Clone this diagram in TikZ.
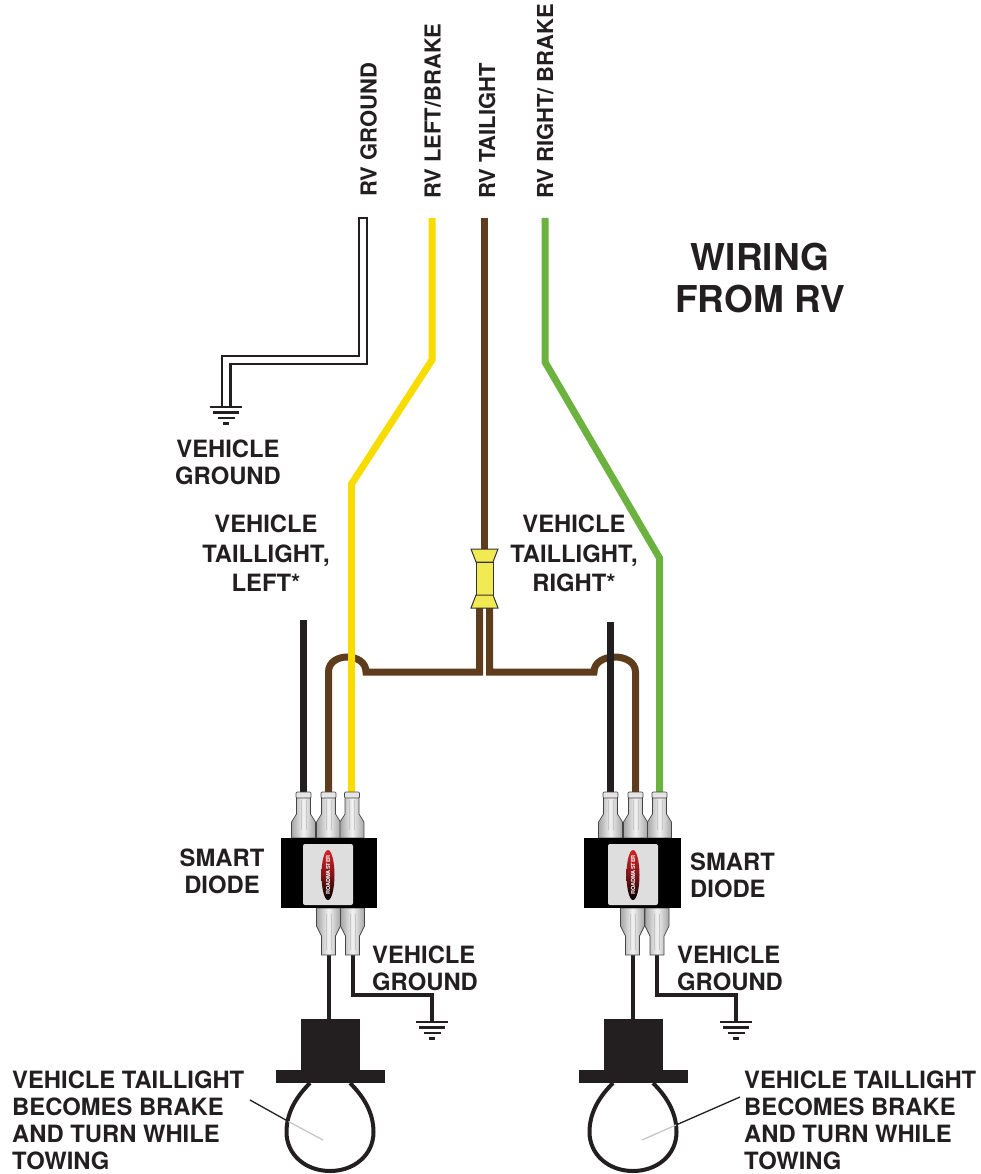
\documentclass[tikz,border=0pt]{standalone}
\usepackage{fontspec}
\setmainfont{TeX Gyre Heros}
\definecolor{wyel}{RGB}{248,220,0}
\definecolor{wbrn}{RGB}{94,60,28}
\definecolor{wgrn}{RGB}{108,178,62}
\definecolor{wblk}{RGB}{35,31,32}
\definecolor{splc}{RGB}{242,234,82}
\definecolor{logored}{RGB}{210,35,42}
\definecolor{panelgray}{RGB}{222,222,222}
\begin{document}
\begin{tikzpicture}[x=1pt,y=-1pt,line join=miter,
  wire/.style={line width=7,line cap=butt},
  thinwire/.style={line width=4,draw=wblk},
  gline/.style={line width=2.2,draw=wblk},
  lbl/.style={font=\fontsize{23.8}{26.8}\selectfont\bfseries,text=wblk,inner sep=0},
  lblwide/.style={font=\fontsize{23.8}{29.5}\selectfont\bfseries,text=wblk,inner sep=0},
  toplbl/.style={font=\fontsize{22}{22}\selectfont\bfseries,text=wblk,rotate=90,anchor=base west,inner sep=0},
  titlelbl/.style={font=\fontsize{37}{42}\selectfont\bfseries,text=wblk,inner sep=0},
  termshade/.style={left color=gray!70,right color=gray!70,middle color=gray!10,draw=gray!55!black,line width=0.7},
  splicestyle/.style={fill=splc,draw=gray!40!black,line width=1},
  gnd/.pic={
    \draw[gline] (-16,0) -- (16,0) (-13,5.5) -- (13,5.5) (-8.5,11) -- (8.5,11) (-3,16.5) -- (3,16.5);
  },
  termup/.pic={
    \shadedraw[termshade] (-7,-44) -- (7,-44) -- (7,-24) -- (12,-16) -- (12,0) -- (-12,0) -- (-12,-16) -- (-7,-24) -- cycle;
    \draw[gray!45,line width=0.8] (-2.5,-38) -- (-2.5,-8) (2.5,-38) -- (2.5,-8);
    \filldraw[fill=gray!20,draw=gray!55!black,line width=0.7,rounded corners=1] (-7.5,-46) rectangle (7.5,-40);
  },
  termdn/.pic={
    \shadedraw[termshade] (-12,0) -- (12,0) -- (12,18) -- (7,28) -- (7,47) -- (-7,47) -- (-7,28) -- (-12,18) -- cycle;
    \draw[gray!45,line width=0.8] (-2.5,6) -- (-2.5,42) (2.5,6) -- (2.5,42);
  },
  bulb/.pic={
    \draw[line width=4,wblk] (-20,0) .. controls (-32,12) and (-43.5,28) .. (-43.5,49) .. controls (-43.5,72) and (-24,88) .. (0,88) .. controls (24,88) and (43.5,72) .. (43.5,49) .. controls (43.5,28) and (32,12) .. (20,0);
    \fill[wblk] (-29.5,-64) rectangle (29.5,-12);
    \fill[wblk] (-54.5,-13) rectangle (54.5,0);
  }
]
\useasboundingbox (0,0) rectangle (980,1174);

% ---------- named points ----------
\coordinate (gtop) at (363.2,217);
\coordinate (gb1) at (363.2,360.2);
\coordinate (gb2) at (226.3,360.2);
\coordinate (gend) at (226.3,407);

% ---------- RV ground (white wire) ----------
\draw[wblk,line width=10.5] (gtop) -- (gb1) -- (gb2) -- (gend);
\draw[white,line width=6.3,shorten <=2.2] (gtop) -- (gb1) -- (gb2) -- (gend);
\pic at (gend) {gnd};

% ---------- RV taillight (brown) ----------
\coordinate (btop) at (484.5,218);
\coordinate (splice) at (484.5,552);
\draw[wire,wbrn] (btop) -- (splice);

\coordinate (bl1) at (479.5,605);
\coordinate (bl2) at (479.5,672);
\coordinate (bl3) at (366,672);
\coordinate (bl4) at (328.5,672);
\coordinate (bl5) at (328.5,797);
\draw[wire,wbrn] (bl1) -- (bl2) -- (bl3) .. controls (366,652) and (328.5,652) .. (bl4) -- (bl5);

\coordinate (br1) at (489.5,605);
\coordinate (br2) at (489.5,672);
\coordinate (br3) at (594,672);
\coordinate (br4) at (635.5,672);
\coordinate (br5) at (635.5,797);
\draw[wire,wbrn] (br1) -- (br2) -- (br3) .. controls (594,652) and (635.5,652) .. (br4) -- (br5);

% ---------- left/brake (yellow) ----------
\coordinate (y1) at (432,218);
\coordinate (y2) at (432,360);
\coordinate (y3) at (351.5,484);
\coordinate (y4) at (351.5,797);
\draw[wire,wyel] (y1) -- (y2) -- (y3) -- (y4);

% ---------- right/brake (green) ----------
\coordinate (g1) at (545,218);
\coordinate (g2) at (545,362);
\coordinate (g3) at (659.5,558);
\coordinate (g4) at (659.5,797);
\draw[wire,wgrn] (g1) -- (g2) -- (g3) -- (g4);

% ---------- vehicle taillight wires (black) ----------
\coordinate (kl1) at (303.5,620);
\coordinate (kl2) at (303.5,797);
\coordinate (kr1) at (610.5,622);
\coordinate (kr2) at (610.5,797);
\draw[wire,wblk] (kl1) -- (kl2);
\draw[wire,wblk] (kr1) -- (kr2);

% ---------- butt splice ----------
\path[splicestyle] (471,549) -- (498,549) -- (493,562) -- (476,562) -- cycle;
\path[splicestyle] (476,562) rectangle (493,595);
\path[splicestyle] (476,595) -- (493,595) -- (498,608) -- (471,608) -- cycle;

% ---------- bottom wires ----------
\coordinate (dl1) at (329,950);
\coordinate (bulbL) at (329,1020);
\draw[thinwire] (dl1) -- (bulbL);
\coordinate (dl2) at (352.5,950);
\coordinate (dl3) at (352.5,995);
\coordinate (dl4) at (432,995);
\coordinate (gndL) at (432,1022);
\draw[thinwire] (dl2) -- (dl3) -- (dl4) -- (gndL);
\pic at (gndL) {gnd};

\coordinate (dr1) at (633,950);
\coordinate (bulbR) at (633,1020);
\draw[thinwire] (dr1) -- (bulbR);
\coordinate (dr2) at (657,950);
\coordinate (dr3) at (657,995);
\coordinate (dr4) at (736,995);
\coordinate (gndR) at (736,1022);
\draw[thinwire] (dr2) -- (dr3) -- (dr4) -- (gndR);
\pic at (gndR) {gnd};

% ---------- smart diodes ----------
\pic at (303.5,838) {termup};
\pic at (328.5,838) {termup};
\pic at (352,838) {termup};
\pic at (328.5,908) {termdn};
\pic at (352.5,908) {termdn};
\fill[black] (281,838) rectangle (377,908);
\fill[panelgray,rounded corners=2] (303,844) rectangle (353,905);
\shade[top color=logored,bottom color=black,middle color=logored!60!black] (328,875) ellipse [x radius=6.5,y radius=25];
\node[rotate=90,font=\fontsize{5.6}{5.6}\selectfont\bfseries,text=white,inner sep=0] (logoL) at (328,875) {ROADMASTER};

\pic at (610.5,838) {termup};
\pic at (635.5,838) {termup};
\pic at (659.5,838) {termup};
\pic at (632.5,908) {termdn};
\pic at (657,908) {termdn};
\fill[black] (584,838) rectangle (681,908);
\fill[panelgray,rounded corners=2] (608,844) rectangle (658,905);
\shade[top color=logored,bottom color=black,middle color=logored!60!black] (633,875) ellipse [x radius=6.5,y radius=25];
\node[rotate=90,font=\fontsize{5.6}{5.6}\selectfont\bfseries,text=white,inner sep=0] (logoR) at (633,875) {ROADMASTER};

% ---------- bulbs ----------
\pic at (330,1083) {bulb};
\pic at (633,1083) {bulb};
\coordinate (pl0) at (250,1100);
\coordinate (pl1) at (288.5,1121.5);
\coordinate (pl2) at (323,1140);
\draw[wblk,line width=1.3] (pl0) -- (pl1);
\draw[gray!45,line width=1.3] (pl1) -- (pl2);
\coordinate (pr0) at (740,1097);
\coordinate (pr1) at (676,1125);
\coordinate (pr2) at (642,1140);
\draw[wblk,line width=1.3] (pr0) -- (pr1);
\draw[gray!45,line width=1.3] (pr1) -- (pr2);

% ---------- labels ----------
\node[toplbl] (lg) at (376.5,197) {RV GROUND};
\node[toplbl] (ll) at (440.5,199) {RV LEFT/BRAKE};
\node[toplbl] (lt) at (495,199) {RV TAILIGHT};
\node[toplbl] (lr) at (553,199) {RV RIGHT/ BRAKE};

\node[titlelbl,align=center,anchor=north] (title) at (760,243) {WIRING\\FROM RV};

\node[lbl,align=center,anchor=north] (vg1) at (228,440) {VEHICLE\\GROUND};
\node[lblwide,align=center,anchor=north] (vtl) at (266,515) {VEHICLE\\TAILLIGHT,\\LEFT*};
\node[lblwide,align=center,anchor=north] (vtr) at (574,515) {VEHICLE\\TAILLIGHT,\\RIGHT*};
\node[lbl,align=center,anchor=north] (sdl) at (222,849) {SMART\\DIODE};
\node[lbl,align=left,anchor=north west] (sdr) at (690,853) {SMART\\DIODE};
\node[lbl,align=left,anchor=north west] (vgl) at (372,946) {VEHICLE\\GROUND};
\node[lbl,align=left,anchor=north west] (vgr) at (677,946) {VEHICLE\\GROUND};
\node[lbl,align=left,anchor=north west] (btl) at (12,1071) {VEHICLE TAILLIGHT\\BECOMES BRAKE\\AND TURN WHILE\\TOWING};
\node[lbl,align=left,anchor=north west] (btr) at (744,1071) {VEHICLE TAILLIGHT\\BECOMES BRAKE\\AND TURN WHILE\\TOWING};
\end{tikzpicture}
\end{document}
